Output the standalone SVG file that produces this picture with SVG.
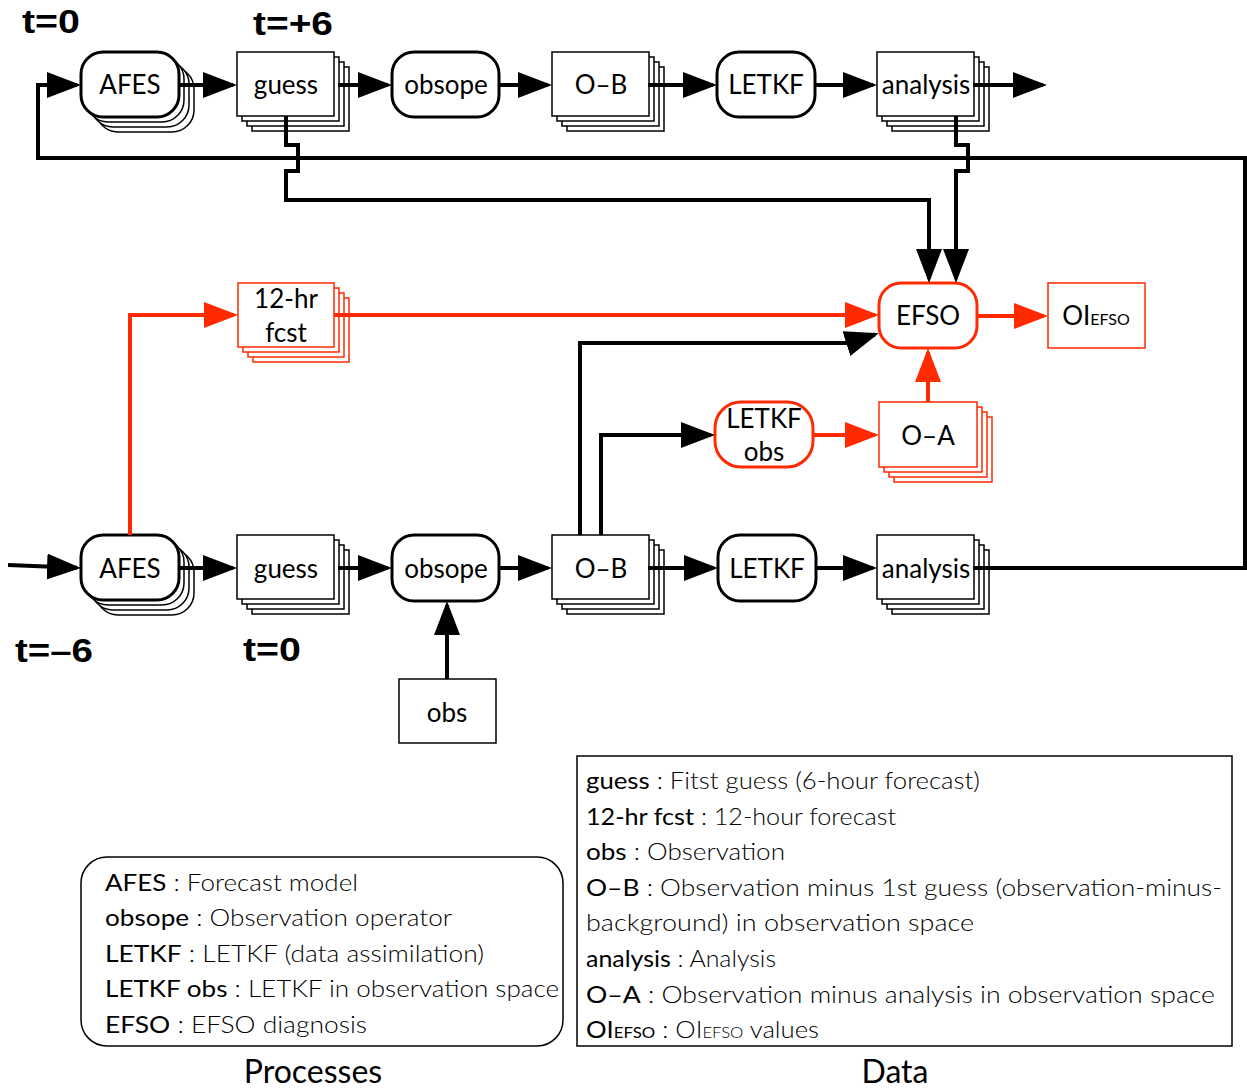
<svg xmlns="http://www.w3.org/2000/svg" width="1247" height="1092" viewBox="0 0 1247 1092">
<style>
.p{fill:#fff;stroke:#000;stroke-width:3}
.ps{fill:#fff;stroke:#000;stroke-width:1.5}
.d{fill:#fff;stroke:#000;stroke-width:1.5}
.rp{fill:#fff;stroke:#ff2a00;stroke-width:3}
.rd{fill:#fff;stroke:#ff2a00;stroke-width:1.5}
.t{font-family:Lato,"Open Sans",sans-serif;font-size:26px;fill:#000;text-anchor:middle}
.lab{font-family:"Liberation Sans",Arial,sans-serif;font-weight:bold;font-size:33px;fill:#000}
.c{fill:none;stroke:#000;stroke-width:4;marker-end:url(#ah)}
.r{fill:none;stroke:#ff2a00;stroke-width:4;marker-end:url(#ahr)}
.lg{font-family:Lato,"Open Sans",sans-serif;font-size:23px;fill:#000;font-weight:300}
.lg .k{font-weight:400}
.ti{font-family:Lato,"Open Sans",sans-serif;font-size:32px;fill:#000;text-anchor:middle}
</style>
<defs>
<marker id="ah" markerUnits="userSpaceOnUse" markerWidth="34" markerHeight="26" viewBox="0 0 34 26" refX="30" refY="13" orient="auto"><path d="M0,0 L34,13 L0,26 z" fill="#000"/></marker>
<marker id="ahr" markerUnits="userSpaceOnUse" markerWidth="34" markerHeight="26" viewBox="0 0 34 26" refX="30" refY="13" orient="auto"><path d="M0,0 L34,13 L0,26 z" fill="#ff2a00"/></marker>
</defs>
<rect width="1247" height="1092" fill="#fff"/>

<g id="labels">
<text class="lab" x="22" y="33" textLength="58" lengthAdjust="spacingAndGlyphs">t=0</text>
<text class="lab" x="253" y="35" textLength="80" lengthAdjust="spacingAndGlyphs">t=+6</text>
<text class="lab" x="15" y="662" textLength="78" lengthAdjust="spacingAndGlyphs">t=–6</text>
<text class="lab" x="243" y="661" textLength="58" lengthAdjust="spacingAndGlyphs">t=0</text>
</g>

<!-- top row -->
<g id="afes1">
<rect class="ps" x="96" y="67" width="98" height="65" rx="22"/>
<rect class="ps" x="91" y="62" width="98" height="65" rx="22"/>
<rect class="ps" x="86" y="57" width="98" height="65" rx="22"/>
<rect class="p" x="81" y="52" width="98" height="65" rx="22"/>
<text class="t" x="130" y="94">AFES</text>
</g>
<g id="guess1">
<rect class="d" x="252" y="67" width="97" height="64"/>
<rect class="d" x="247" y="62" width="97" height="64"/>
<rect class="d" x="242" y="57" width="97" height="64"/>
<rect class="d" x="237" y="52" width="97" height="64"/>
<text class="t" x="286" y="94">guess</text>
</g>
<g id="obsope1">
<rect class="p" x="392" y="52" width="107" height="65" rx="22"/>
<text class="t" x="446" y="94">obsope</text>
</g>
<g id="ob1">
<rect class="d" x="567" y="67" width="97" height="64"/>
<rect class="d" x="562" y="62" width="97" height="64"/>
<rect class="d" x="557" y="57" width="97" height="64"/>
<rect class="d" x="552" y="52" width="97" height="64"/>
<text class="t" x="601" y="94">O–B</text>
</g>
<g id="letkf1">
<rect class="p" x="717" y="52" width="98" height="65" rx="22"/>
<text class="t" x="766" y="94">LETKF</text>
</g>
<g id="analysis1">
<rect class="d" x="892" y="67" width="97" height="64"/>
<rect class="d" x="887" y="62" width="97" height="64"/>
<rect class="d" x="882" y="57" width="97" height="64"/>
<rect class="d" x="877" y="52" width="97" height="64"/>
<text class="t" x="926" y="94">analysis</text>
</g>

<!-- middle -->
<g id="fcst12">
<rect class="rd" x="253" y="298" width="96" height="64"/>
<rect class="rd" x="248" y="293" width="96" height="64"/>
<rect class="rd" x="243" y="288" width="96" height="64"/>
<rect class="rd" x="238" y="283" width="96" height="64"/>
<text class="t" x="286" y="308">12-hr</text>
<text class="t" x="286" y="342">fcst</text>
</g>
<g id="efso">
<rect class="rp" x="879" y="283" width="98" height="65" rx="22"/>
<text class="t" x="928" y="325">EFSO</text>
</g>
<g id="oiefso">
<rect class="rd" x="1048" y="283" width="97" height="65"/>
<text class="t" x="1096" y="325">OI<tspan font-size="16">EFSO</tspan></text>
</g>
<g id="letkfobs">
<rect class="rp" x="715" y="402" width="98" height="65" rx="26"/>
<text class="t" x="764" y="428">LETKF</text>
<text class="t" x="764" y="461">obs</text>
</g>
<g id="oa">
<rect class="rd" x="894" y="417" width="98" height="65"/>
<rect class="rd" x="889" y="412" width="98" height="65"/>
<rect class="rd" x="884" y="407" width="98" height="65"/>
<rect class="rd" x="879" y="402" width="98" height="65"/>
<text class="t" x="928" y="445">O–A</text>
</g>

<!-- bottom row -->
<g id="afes0">
<rect class="ps" x="96" y="550" width="98" height="65" rx="22"/>
<rect class="ps" x="91" y="545" width="98" height="65" rx="22"/>
<rect class="ps" x="86" y="540" width="98" height="65" rx="22"/>
<rect class="p" x="81" y="535" width="98" height="65" rx="22"/>
<text class="t" x="130" y="578">AFES</text>
</g>
<g id="guess0">
<rect class="d" x="252" y="550" width="97" height="64"/>
<rect class="d" x="247" y="545" width="97" height="64"/>
<rect class="d" x="242" y="540" width="97" height="64"/>
<rect class="d" x="237" y="535" width="97" height="64"/>
<text class="t" x="286" y="578">guess</text>
</g>
<g id="obsope0">
<rect class="p" x="392" y="535" width="107" height="66" rx="22"/>
<text class="t" x="446" y="578">obsope</text>
</g>
<g id="obs">
<rect class="d" x="399" y="679" width="97" height="64"/>
<text class="t" x="447" y="722">obs</text>
</g>
<g id="ob0">
<rect class="d" x="567" y="550" width="97" height="64"/>
<rect class="d" x="562" y="545" width="97" height="64"/>
<rect class="d" x="557" y="540" width="97" height="64"/>
<rect class="d" x="552" y="535" width="97" height="64"/>
<text class="t" x="601" y="578">O–B</text>
</g>
<g id="letkf0">
<rect class="p" x="718" y="535" width="98" height="66" rx="22"/>
<text class="t" x="767" y="578">LETKF</text>
</g>
<g id="analysis0">
<rect class="d" x="892" y="550" width="97" height="64"/>
<rect class="d" x="887" y="545" width="97" height="64"/>
<rect class="d" x="882" y="540" width="97" height="64"/>
<rect class="d" x="877" y="535" width="97" height="64"/>
<text class="t" x="926" y="578">analysis</text>
</g>

<g id="connectors">
<path class="c" d="M973,568 H1245 V158 H38 V85 H77"/>
<path class="c" d="M180,85 H233"/>
<path class="c" d="M338,85 H388"/>
<path class="c" d="M499,85 H548"/>
<path class="c" d="M648,85 H713"/>
<path class="c" d="M815,85 H873"/>
<path class="c" d="M973,85 H1043"/>
<path class="c" d="M286,116 V145 H298 V171 H286 V200 H929 V279"/>
<path class="c" d="M956,116 V145 H968 V171 H956 V279"/>
<path class="c" d="M8,565 L77,567.8"/>
<path class="c" d="M180,568 H233"/>
<path class="c" d="M338,568 H388"/>
<path class="c" d="M500,568 H548"/>
<path class="c" d="M648,568 H714"/>
<path class="c" d="M816,568 H873"/>
<path class="c" d="M447,679 V605"/>
<path class="c" d="M580,535 V343 H848 L875,334.5"/>
<path class="c" d="M601,535 V435 H711"/>
<path class="r" d="M130,535 V315 H234"/>
<path class="r" d="M334,315 H875"/>
<path class="r" d="M977,316 H1044"/>
<path class="r" d="M813,435 H875"/>
<path class="r" d="M928,402 V352"/>
</g>

<g id="legend-processes">
<rect x="81" y="857" width="482" height="189" rx="26" fill="#fff" stroke="#000" stroke-width="1.5"/>
<text class="lg" x="105" y="891" textLength="253" lengthAdjust="spacingAndGlyphs"><tspan class="k">AFES</tspan> : Forecast model</text>
<text class="lg" x="105" y="926" textLength="347" lengthAdjust="spacingAndGlyphs"><tspan class="k">obsope</tspan> : Observation operator</text>
<text class="lg" x="105" y="962" textLength="379" lengthAdjust="spacingAndGlyphs"><tspan class="k">LETKF</tspan> : LETKF (data assimilation)</text>
<text class="lg" x="105" y="997" textLength="454" lengthAdjust="spacingAndGlyphs"><tspan class="k">LETKF obs</tspan> : LETKF in observation space</text>
<text class="lg" x="105" y="1033" textLength="262" lengthAdjust="spacingAndGlyphs"><tspan class="k">EFSO</tspan> : EFSO diagnosis</text>
<text class="ti" x="313" y="1083">Processes</text>
</g>

<g id="legend-data">
<rect x="577" y="756" width="655" height="290" fill="#fff" stroke="#000" stroke-width="1.5"/>
<text class="lg" x="586" y="789" textLength="394" lengthAdjust="spacingAndGlyphs"><tspan class="k">guess</tspan> : Fitst guess (6-hour forecast)</text>
<text class="lg" x="586" y="825" textLength="310" lengthAdjust="spacingAndGlyphs"><tspan class="k">12-hr fcst</tspan> : 12-hour forecast</text>
<text class="lg" x="586" y="860" textLength="199" lengthAdjust="spacingAndGlyphs"><tspan class="k">obs</tspan> : Observation</text>
<text class="lg" x="586" y="896" textLength="636" lengthAdjust="spacingAndGlyphs"><tspan class="k">O–B</tspan> : Observation minus 1st guess (observation-minus-</text>
<text class="lg" x="586" y="931" textLength="388" lengthAdjust="spacingAndGlyphs">background) in observation space</text>
<text class="lg" x="586" y="967" textLength="190" lengthAdjust="spacingAndGlyphs"><tspan class="k">analysis</tspan> : Analysis</text>
<text class="lg" x="586" y="1003" textLength="629" lengthAdjust="spacingAndGlyphs"><tspan class="k">O–A</tspan> : Observation minus analysis in observation space</text>
<text class="lg" x="586" y="1038" textLength="233" lengthAdjust="spacingAndGlyphs"><tspan class="k">OI<tspan font-size="15">EFSO</tspan></tspan> : OI<tspan font-size="15">EFSO</tspan> values</text>
<text class="ti" x="895" y="1083">Data</text>
</g>
</svg>
